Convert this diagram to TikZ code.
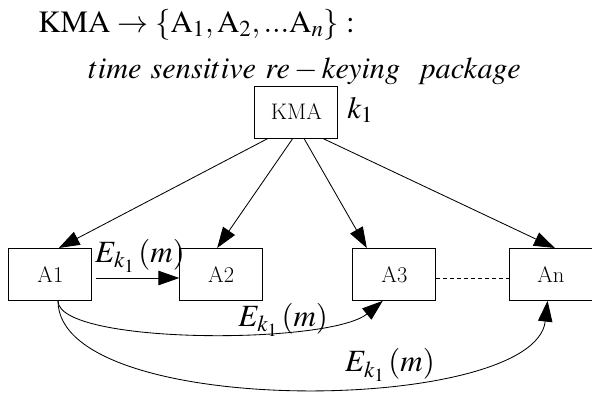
\documentclass[tikz,border=0pt]{standalone}
\usepackage{amsmath, amssymb}
\usepackage{mathptmx}
\usepackage{tikz}
\usetikzlibrary{arrows.meta}
\tikzset{
    agent/.style={draw, line width=0.6pt, minimum width=2.075cm, minimum height=1.3cm, inner sep=0pt, font=\fontsize{16}{19}\selectfont},
    bigtext/.style={inner sep=0pt, font=\fontsize{22}{26}\selectfont},
    msg/.style={line width=0.6pt, -{Triangle[length=0.52cm,width=0.36cm]}}
}

\begin{document}
\begin{tikzpicture}
        \useasboundingbox (0,0) rectangle (14.8,-9.8);
        \node[bigtext, anchor=base west] (title) at (0.95,-0.8) {$\mathrm{KMA}\rightarrow\{\mathrm{A}_{1},\mathrm{A}_{2},...\mathrm{A}_{n}\}:$};
        \node[bigtext, anchor=base west, font=\fontsize{21.5}{26}\selectfont] (subtitle) at (2.2,-1.95) {$time\ sensitive\ re-keying\ \ package$};
        \node[agent] (kma) at (7.41,-2.8) {KMA};
        \node[bigtext, anchor=west] (key) at (8.68,-2.75) {$k_{1}$};
        \node[agent] (a1) at (1.26,-6.86) {A1};
        \node[agent] (a2) at (5.53,-6.86) {A2};
        \node[agent] (a3) at (9.86,-6.86) {A3};
        \node[agent] (an) at (13.77,-6.86) {An};
        \draw[msg] ([xshift=-0.71cm]kma.south) -- ([xshift=0.21cm]a1.north);
        \draw[msg] ([xshift=-0.09cm]kma.south) -- ([xshift=-0.1cm]a2.north);
        \draw[msg] ([xshift=0.19cm]kma.south) -- ([xshift=-0.69cm]a3.north);
        \draw[msg] ([xshift=0.66cm]kma.south) -- ([xshift=0.1cm]an.north);
        \draw[msg] ([xshift=0.1cm,yshift=-0.09cm]a1.east) -- ([yshift=-0.09cm]a2.west);
        \draw[line width=0.6pt, dash pattern=on 0.1cm off 0.075cm] ([yshift=-0.09cm]a3.east) -- ([yshift=-0.09cm]an.west);
        \draw[msg] ([xshift=0.19cm]a1.south) .. controls +(0,-1.1) and +(-1.33,-1.1) .. ([xshift=-0.29cm]a3.south);
        \draw[msg] ([xshift=0.19cm]a1.south) .. controls +(0,-2.98) and +(-0.33,-2.85) .. ([xshift=-0.08cm]an.south);
        \node[bigtext] (e12) at (3.5,-6.4) {$E_{k_{1}}\,(m)$};
        \node[bigtext] (e13) at (7.08,-8.0) {$E_{k_{1}}\,(m)$};
        \node[bigtext] (e1n) at (9.75,-9.13) {$E_{k_{1}}\,(m)$};
    \end{tikzpicture}
\end{document}
